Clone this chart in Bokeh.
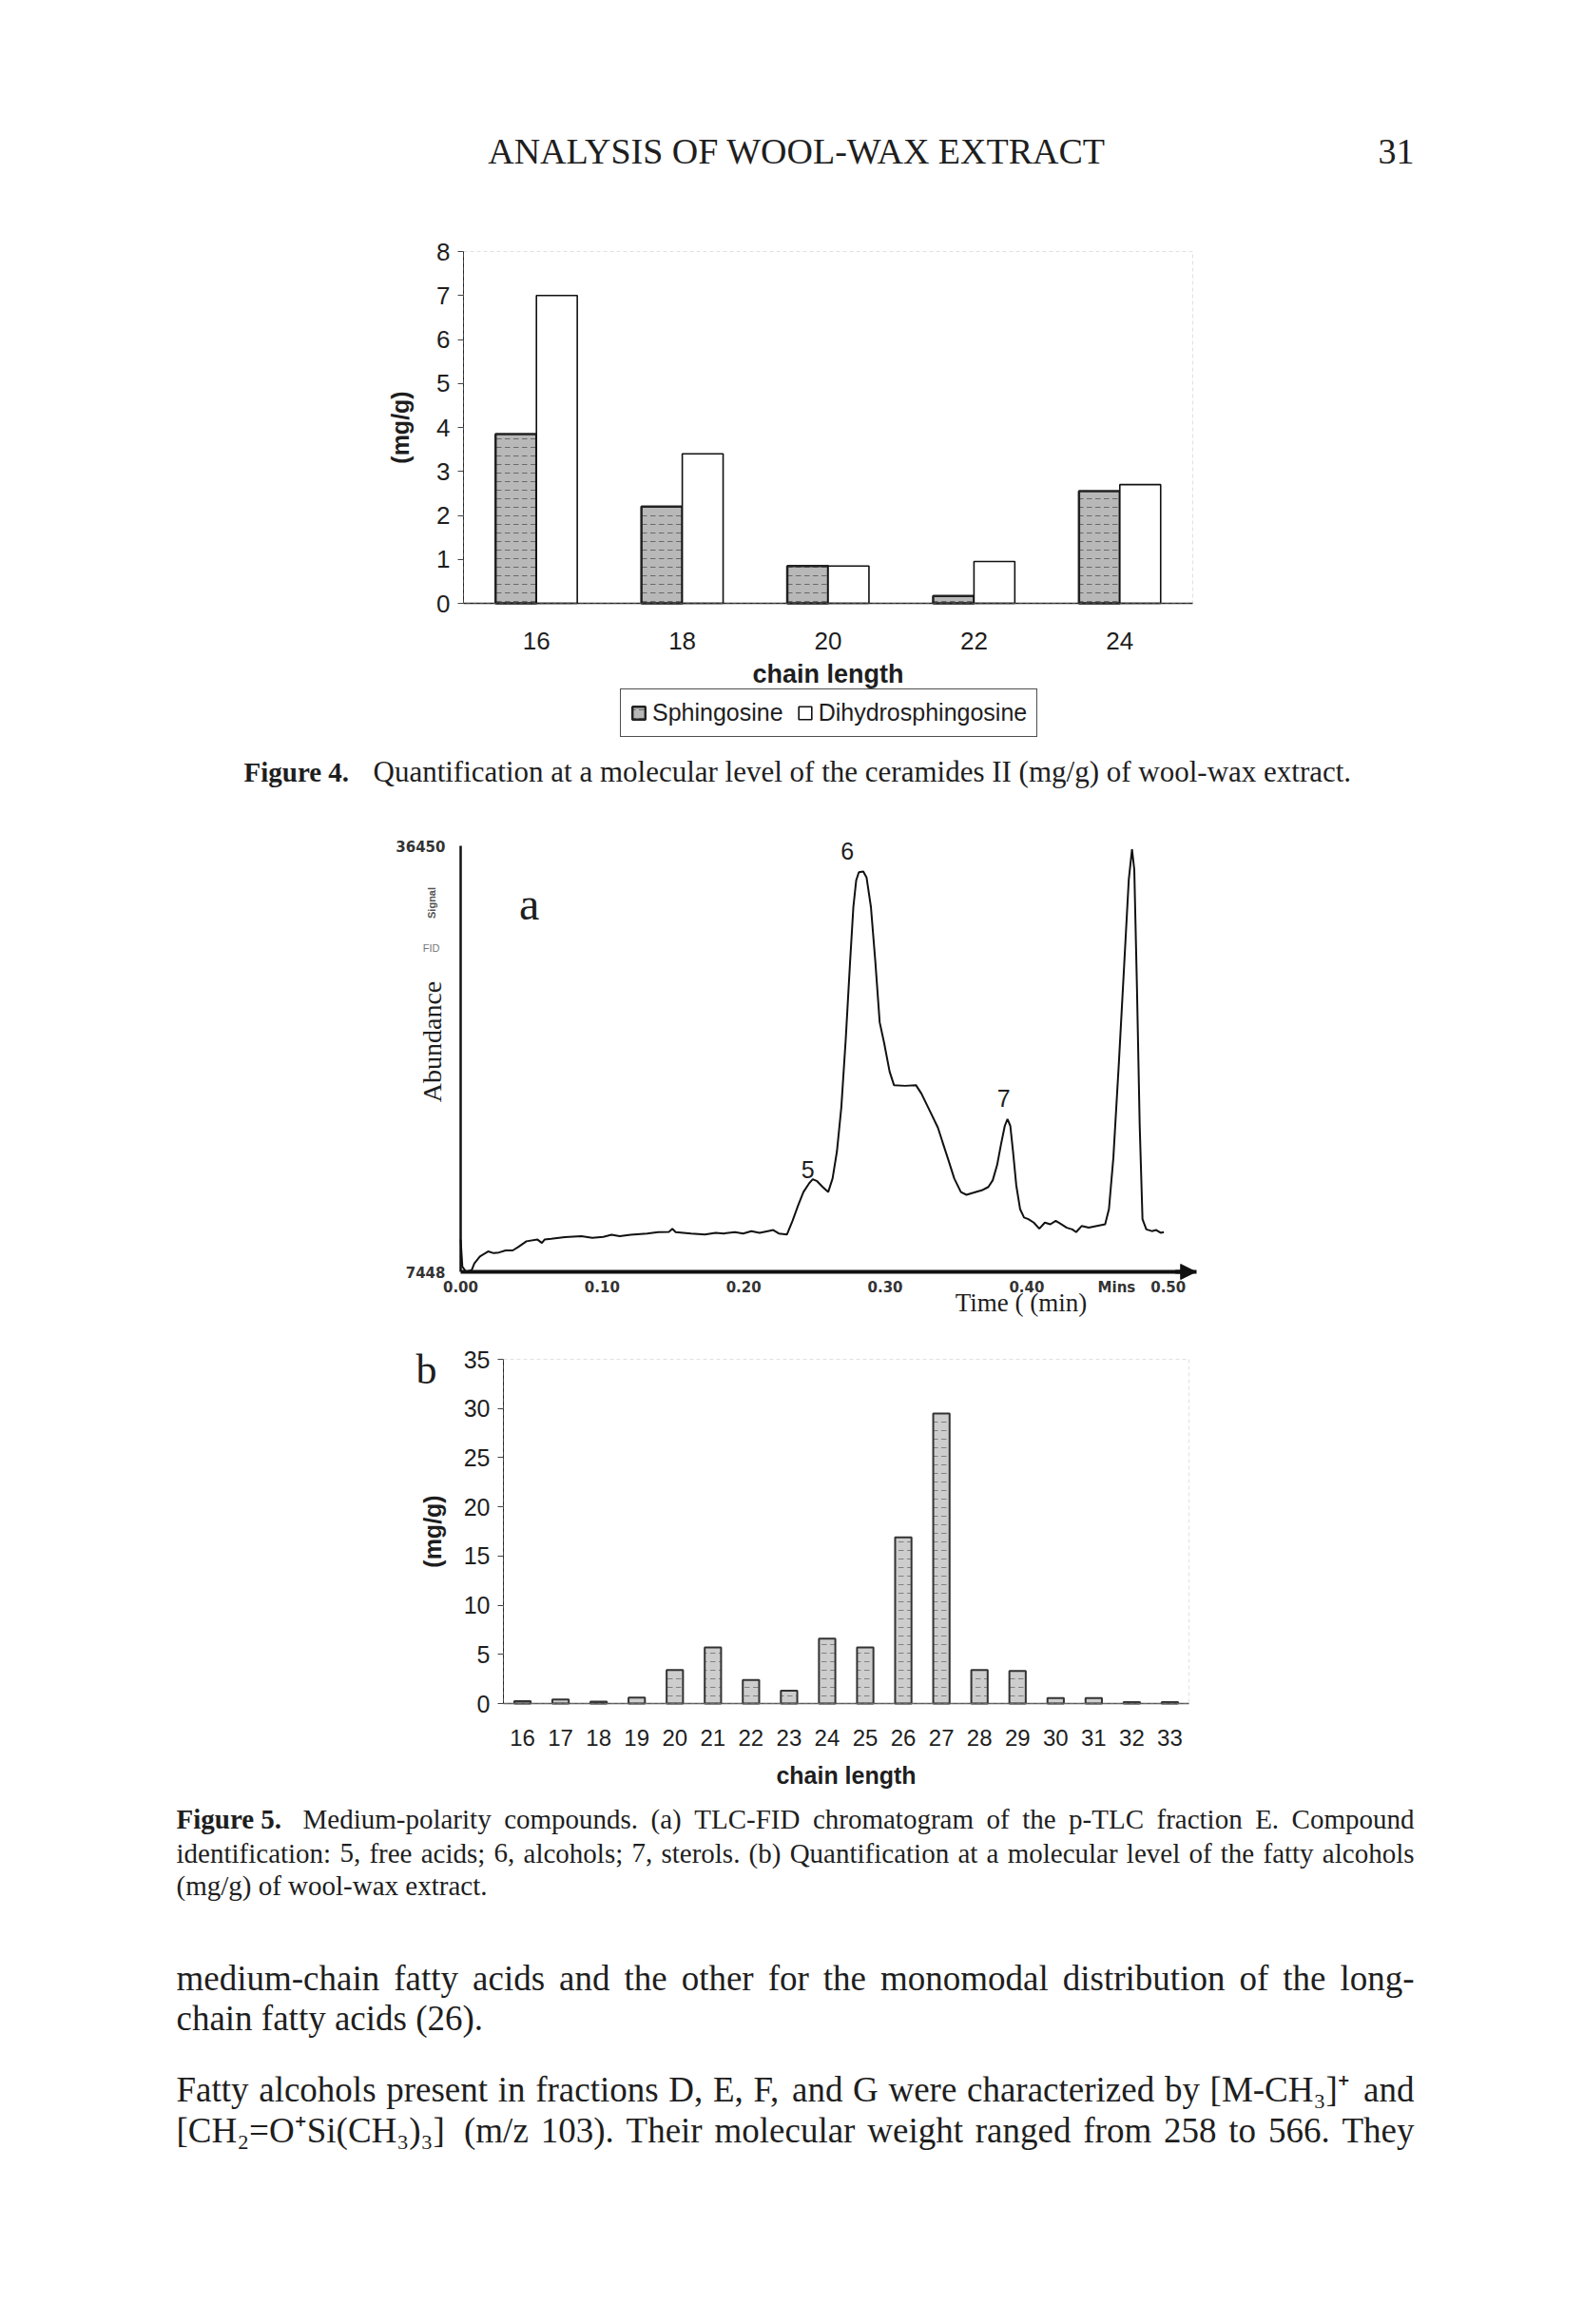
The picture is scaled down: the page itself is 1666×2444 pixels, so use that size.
from math import pi
from bokeh.plotting import figure
from bokeh.models import (Range1d, FixedTicker, Legend, LegendItem, Label, Arrow,
                          NormalHead, ColumnDataSource, NumeralTickFormatter, BoxAnnotation)
from bokeh.layouts import column
from bokeh.embed import file_html
from bokeh.resources import INLINE
from bokeh.core.properties import value
from bokeh.transform import dodge

# ---------------- data ----------------
ceramide_chain = [16, 18, 20, 22, 24]
sphingosine = [3.85, 2.2, 0.85, 0.17, 2.55]
dihydrosphingosine = [7.0, 3.4, 0.85, 0.95, 2.7]
ceramide_yticks = [0, 1, 2, 3, 4, 5, 6, 7, 8]

alcohol_chain = [16, 17, 18, 19, 20, 21, 22, 23, 24, 25, 26, 27, 28, 29, 30, 31, 32, 33]
alcohol_mgg = [0.25, 0.4, 0.2, 0.6, 3.4, 5.7, 2.4, 1.3, 6.6, 5.7, 16.9, 29.5, 3.4, 3.3,
               0.55, 0.55, 0.15, 0.15]
alcohol_yticks = [0, 5, 10, 15, 20, 25, 30, 35]

tlc_time = [0.0, 0.0012, 0.0039, 0.0078, 0.0097, 0.0136, 0.0194, 0.0233, 0.0271, 0.0318,
            0.0368, 0.0407, 0.0465, 0.0543, 0.0574, 0.0593, 0.0640, 0.0736, 0.0853, 0.0930,
            0.1008, 0.1066, 0.1124, 0.1202, 0.1318, 0.1395, 0.1473, 0.1496, 0.1519, 0.1628,
            0.1725, 0.1802, 0.1860, 0.1938, 0.1996, 0.2054, 0.2112, 0.2171, 0.2209, 0.2248,
            0.2306, 0.2345, 0.2384, 0.2422, 0.2461, 0.2488, 0.2519, 0.2558, 0.2597, 0.2628,
            0.2659, 0.2690, 0.2721, 0.2752, 0.2775, 0.2795, 0.2814, 0.2845, 0.2868, 0.2899,
            0.2930, 0.2961, 0.2992, 0.3031, 0.3062, 0.3140, 0.3217, 0.3256, 0.3314, 0.3372,
            0.3403, 0.3442, 0.3488, 0.3535, 0.3574, 0.3624, 0.3682, 0.3729, 0.3760, 0.3791,
            0.3818, 0.3845, 0.3864, 0.3884, 0.3903, 0.3926, 0.3953, 0.3981, 0.4012, 0.4050,
            0.4089, 0.4128, 0.4167, 0.4205, 0.4233, 0.4283, 0.4322, 0.4349, 0.4388, 0.4438,
            0.4496, 0.4554, 0.4581, 0.4612, 0.4651, 0.4690, 0.4721, 0.4744, 0.4760, 0.4779,
            0.4798, 0.4818, 0.4845, 0.4884, 0.4915, 0.4946, 0.4969]
tlc_signal = [9643, 7795, 7448, 7564, 8026, 8488, 8835, 8719, 8765, 8904,
              8904, 9135, 9528, 9643, 9412, 9643, 9690, 9805, 9874, 9759,
              9828, 9967, 9874, 9967, 10059, 10152, 10175, 10383, 10152, 10059,
              9990, 10105, 10059, 10152, 10059, 10221, 10105, 10221, 10290, 10059,
              9990, 10914, 11954, 12879, 13456, 13757, 13618, 13225, 12879, 13803,
              15652, 18656, 23278, 28593, 32290, 34100, 34650, 34702, 34300, 32290,
              28593, 24433, 23047, 21082, 20158, 20112, 20158, 19580, 18425, 17269,
              16345, 15189, 13803, 12879, 12693, 12832, 12994, 13225, 13687, 14727,
              16114, 17385, 17847, 17385, 15652, 13341, 11723, 11145, 11030, 10799,
              10383, 10799, 10683, 10914, 10753, 10452, 10337, 10152, 10568, 10452,
              10568, 10683, 11723, 15189, 21660, 28593, 34139, 36219, 34832, 26744,
              17500, 11030, 10337, 10221, 10290, 10105, 10152]
tlc_yticks = [7448, 36450]
tlc_xticks = [0.0, 0.1, 0.2, 0.3, 0.4, 0.5]
peak_names = ["5", "6", "7"]

W = 1650
SERIF = "Liberation Serif"
SANS = "Liberation Sans"
INK = "#1e1e1e"

# Times / Liberation Serif advance widths (1/1000 em), used to justify lines
_TW = dict(zip("abcdefghijklmnopqrstuvwxyz",
               [444, 500, 444, 500, 444, 333, 500, 500, 278, 278, 500, 278, 778, 500, 500,
                500, 500, 333, 389, 278, 500, 500, 722, 500, 500, 444]))
_TW.update(zip("ABCDEFGHIJKLMNOPQRSTUVWXYZ",
               [722, 667, 667, 722, 611, 556, 722, 722, 333, 389, 722, 611, 889, 722, 722,
                556, 722, 667, 556, 611, 722, 722, 944, 722, 722, 611]))
_TW.update({c: 500 for c in "0123456789"})
_TW.update({" ": 250, ",": 250, ".": 250, ";": 278, ":": 278, "-": 333, "(": 333, ")": 333,
            "[": 333, "]": 333, "/": 278, "=": 564, "+": 564,
            "\u2082": 400, "\u2083": 400, "\u207a": 400})


def tw(s, size):
    return sum(_TW.get(c, 500) for c in s) * size / 1000.0


# ---------------- helpers ----------------
def text_fig(h):
    p = figure(width=W, height=h, x_range=Range1d(0, W), y_range=Range1d(h, 0),
               output_backend="svg", toolbar_location=None, min_border=0,
               x_axis_location=None, y_axis_location=None)
    p.outline_line_color = None
    p.grid.visible = False
    return p


def put(p, xs, base, texts, size, style="normal", align="left", font=SERIF, color=INK):
    if not isinstance(xs, list):
        xs, texts = [xs], [texts]
    y = base - 0.27 * size          # compensate the renderer's baseline offset
    p.text(x=xs, y=[y] * len(xs), text=texts, text_font=value(font),
           text_font_size=value(f"{size}px"), text_font_style=style,
           text_align=align, text_baseline="alphabetic", text_color=color)


def justify(p, base, s, size, x0, x1):
    words = s.split(" ")
    widths = [tw(w, size) for w in words]
    gap = (x1 - x0 - sum(widths)) / (len(words) - 1)
    xs, x = [], x0
    for w in widths:
        xs.append(x)
        x += w + gap
    put(p, xs, base, words, size)


def chart_fig(h, box, xb, yb, label_font=SANS):
    """Figure whose frame is the whole canvas; the data box (xb, yb) lands on the
    pixel box (left, right, top, bottom); axes are drawn at the data box edges."""
    left, right, top, bottom = box
    kx = (xb[1] - xb[0]) / (right - left)
    ky = (yb[1] - yb[0]) / (bottom - top)
    xr = Range1d(xb[0] - left * kx, xb[1] + (W - right) * kx)
    yr = Range1d(yb[0] - (h - bottom) * ky, yb[1] + top * ky)
    p = figure(width=W, height=h, x_range=xr, y_range=yr, output_backend="svg",
               toolbar_location=None, min_border=0)
    p.outline_line_color = None
    p.grid.visible = False
    p.xaxis.fixed_location = yb[0]
    p.xaxis.bounds = xb
    p.yaxis.fixed_location = xb[0]
    p.yaxis.bounds = yb
    for ax in (p.xaxis, p.yaxis):
        ax.minor_tick_line_color = None
        ax.major_label_text_font = label_font
        ax.major_label_text_color = INK
        ax.axis_label_text_font = SANS
        ax.axis_label_text_font_style = "bold"
        ax.axis_label_text_color = INK
    return p


# ---------------- header (page y 0-240) ----------------
s1 = text_fig(240)
put(s1, 837.5, 169, "ANALYSIS OF WOOL-WAX EXTRACT", 38, align="center")
put(s1, 1487, 169, "31", 38, align="right")

# ---------------- figure 4 (page y 240-795) ----------------
p4 = chart_fig(555, (487, 1254, 24, 394), (15, 25), (0, 8))
p4.add_layout(BoxAnnotation(left=15, right=25, bottom=0, top=8, fill_alpha=0,
                            line_color="#9a9a9a", line_dash="4 3", line_width=1))
src4 = ColumnDataSource(dict(chain=ceramide_chain, sph=sphingosine, dih=dihydrosphingosine))
r_sph = p4.vbar(x=dodge("chain", -0.28, range=p4.x_range), top="sph", width=0.56, source=src4,
                fill_color="#b8b8b8", line_color="#222222", line_width=2.5,
                hatch_pattern="horizontal_dash", hatch_color="#333333", hatch_alpha=0.6,
                hatch_scale=9, hatch_weight=1)
r_dih = p4.vbar(x=dodge("chain", 0.28, range=p4.x_range), top="dih", width=0.56, source=src4,
                fill_color="white", line_color="#111111", line_width=1.6)
p4.xaxis.ticker = FixedTicker(ticks=ceramide_chain)
p4.xaxis.major_tick_line_color = None
p4.xaxis.axis_line_color = "#222222"
p4.xaxis.axis_line_width = 1.5
p4.xaxis.major_label_text_font_size = "26px"
p4.xaxis.major_label_standoff = 24
p4.xaxis.axis_label = "chain length"
p4.xaxis.axis_label_text_font_size = "27px"
p4.xaxis.axis_label_standoff = 8
p4.yaxis.ticker = FixedTicker(ticks=ceramide_yticks)
p4.yaxis.major_tick_out = 6
p4.yaxis.major_tick_in = 0
p4.yaxis.major_tick_line_color = "#444444"
p4.yaxis.axis_line_color = "#222222"
p4.yaxis.major_label_text_font_size = "26px"
p4.yaxis.major_label_standoff = 8
p4.yaxis.axis_label = "(mg/g)"
p4.yaxis.axis_label_text_font_size = "25px"
p4.yaxis.axis_label_standoff = 21
leg = Legend(items=[LegendItem(label="Sphingosine", renderers=[r_sph]),
                    LegendItem(label="Dihydrosphingosine", renderers=[r_dih])],
             orientation="horizontal", location=(652, 20),
             label_text_font=SANS, label_text_font_size="25px", label_text_color=INK,
             glyph_width=17, glyph_height=17, label_height=29, label_standoff=6,
             spacing=14, padding=10, margin=0,
             border_line_color="#222222", border_line_alpha=0.8, background_fill_alpha=0)
p4.add_layout(leg)

# ---------------- caption 4 (page y 795-850) ----------------
s3 = text_fig(55)
put(s3, 256, 24, "Figure 4.", 29, style="bold")
put(s3, 392, 24, "Quantification at a molecular level of the ceramides II (mg/g) of wool-wax extract.", 31)

# ---------------- figure 5a chromatogram (page y 850-1400) ----------------
pa = chart_fig(550, (484, 1258, 39, 487), (0, 0.52), (7448, 36450), label_font="DejaVu Sans")
pa.line(tlc_time, tlc_signal, line_color="#111111", line_width=2)
pa.xaxis.ticker = FixedTicker(ticks=tlc_xticks + [0.4635])
pa.xaxis.formatter = NumeralTickFormatter(format="0.00")
pa.xaxis.major_label_overrides = {0.4635: "Mins"}
pa.xaxis.major_tick_line_color = None
pa.xaxis.axis_line_width = 4
pa.xaxis.axis_line_color = "#111111"
pa.xaxis.major_label_text_font_size = "15px"
pa.xaxis.major_label_text_font_style = "bold"
pa.xaxis.major_label_text_color = "#333333"
pa.xaxis.major_label_standoff = 1
pa.yaxis.ticker = FixedTicker(ticks=tlc_yticks)
pa.yaxis.major_tick_line_color = None
pa.yaxis.axis_line_width = 2.5
pa.yaxis.axis_line_color = "#111111"
pa.yaxis.major_label_text_font_size = "15px"
pa.yaxis.major_label_text_font_style = "bold"
pa.yaxis.major_label_text_color = "#333333"
pa.yaxis.major_label_standoff = 10
pa.add_layout(Arrow(end=NormalHead(size=16, fill_color="#111111", line_color="#111111"),
                    x_start=0.505, y_start=7448, x_end=0.5195, y_end=7448,
                    line_width=4, line_color="#111111"))
for name, tx, sy in zip(peak_names, [0.2453, 0.2733, 0.3837], [14381, 36104, 19234]):
    pa.add_layout(Label(x=tx, y=sy, text=name, text_font=SANS, text_font_size="25px",
                        text_align="center", text_baseline="middle", text_color=INK))
pa.add_layout(Label(x=0.0484, y=32522, text="a", text_font=SERIF, text_font_size="48px",
                    text_align="center", text_baseline="middle", text_color=INK))
pa.add_layout(Label(x=-0.0202, y=23114, text="Abundance", text_font=SERIF, text_font_size="28px",
                    angle=pi / 2, text_align="center", text_baseline="middle", text_color=INK))
pa.add_layout(Label(x=-0.0208, y=32567, text="Signal", text_font=SANS, text_font_size="11px",
                    text_font_style="bold", angle=pi / 2, text_align="center",
                    text_baseline="middle", text_color="#555555"))
pa.add_layout(Label(x=-0.0208, y=29462, text="FID", text_font=SANS, text_font_size="11px",
                    text_align="center", text_baseline="middle", text_color="#777777"))
pa.add_layout(Label(x=0.396, y=5312, text="Time ( (min)", text_font=SERIF, text_font_size="27px",
                    text_align="center", text_baseline="middle", text_color=INK))

# ---------------- figure 5b (page y 1400-1895) ----------------
pb = chart_fig(495, (529, 1250, 29, 391), (15.5, 33.5), (0, 35))
pb.add_layout(BoxAnnotation(left=15.5, right=33.5, bottom=0, top=35, fill_alpha=0,
                            line_color="#9a9a9a", line_dash="4 3", line_width=1))
pb.vbar(x=alcohol_chain, top=alcohol_mgg, width=0.43, fill_color="#cdcdcd",
        line_color="#333333", line_width=2, hatch_pattern="horizontal_dash",
        hatch_color="#444444", hatch_alpha=0.55, hatch_scale=9, hatch_weight=1)
pb.xaxis.ticker = FixedTicker(ticks=alcohol_chain)
pb.xaxis.major_tick_line_color = None
pb.xaxis.axis_line_color = "#555555"
pb.xaxis.axis_line_width = 1.5
pb.xaxis.major_label_text_font_size = "24px"
pb.xaxis.major_label_standoff = 21
pb.xaxis.axis_label = "chain length"
pb.xaxis.axis_label_text_font_size = "25px"
pb.xaxis.axis_label_standoff = 14
pb.yaxis.ticker = FixedTicker(ticks=alcohol_yticks)
pb.yaxis.major_tick_out = 6
pb.yaxis.major_tick_in = 0
pb.yaxis.major_tick_line_color = "#444444"
pb.yaxis.axis_line_color = "#222222"
pb.yaxis.major_label_text_font_size = "25px"
pb.yaxis.major_label_standoff = 8
pb.yaxis.axis_label = "(mg/g)"
pb.yaxis.axis_label_text_font_size = "25px"
pb.yaxis.axis_label_standoff = 16
pb.add_layout(Label(x=13.48, y=33.9, text="b", text_font=SERIF, text_font_size="44px",
                    text_align="center", text_baseline="middle", text_color=INK))

# ---------------- caption 5 and body text (page y 1895-2435) ----------------
s6 = text_fig(540)
L, R = 185, 1487
put(s6, L, 25, "Figure 5.", 29, style="bold")
justify(s6, 25, "Medium-polarity compounds. (a) TLC-FID chromatogram of the p-TLC fraction E. Compound",
        29, 318, R)
justify(s6, 61, "identification: 5, free acids; 6, alcohols; 7, sterols. (b) Quantification at a molecular level of the fatty alcohols",
        29, L, R)
put(s6, L, 95, "(mg/g) of wool-wax extract.", 29)
justify(s6, 195, "medium-chain fatty acids and the other for the monomodal distribution of the long-",
        37, L, R)
put(s6, L, 237, "chain fatty acids (26).", 37)
justify(s6, 312, "Fatty alcohols present in fractions D, E, F, and G were characterized by [M-CH\u2083]\u207a and",
        37, L, R)
justify(s6, 355, "[CH\u2082=O\u207aSi(CH\u2083)\u2083] (m/z 103). Their molecular weight ranged from 258 to 566. They",
        37, L, R)

page = column(s1, p4, s3, pa, pb, s6, spacing=0)
open("out.html", "w").write(file_html(page, INLINE))
